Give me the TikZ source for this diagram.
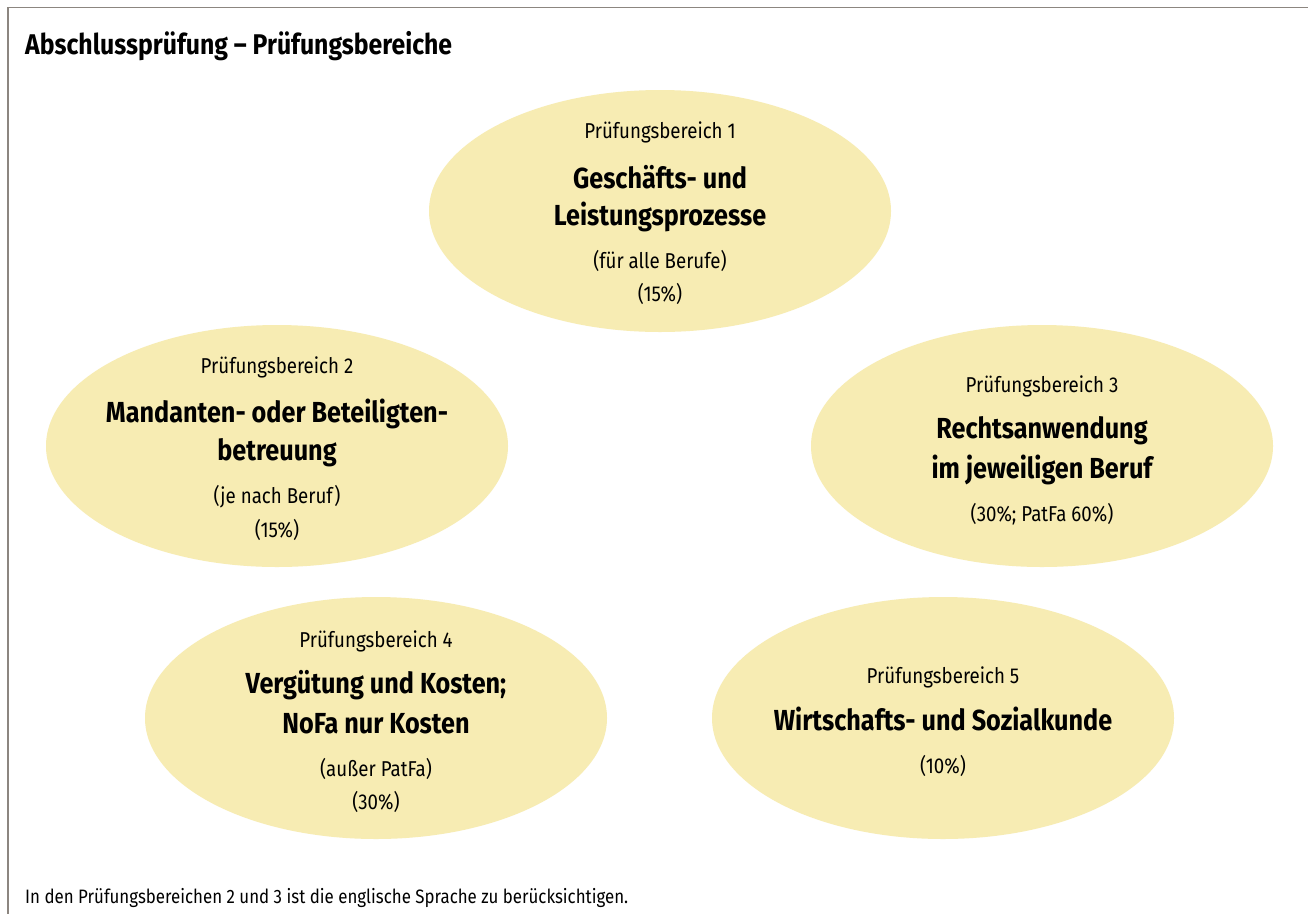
\documentclass[tikz,border=0pt]{standalone}
\usepackage{fontspec}
\setmainfont{Fira Sans}[FakeStretch=0.87]
\usetikzlibrary{shapes.geometric}
\definecolor{ovalfill}{RGB}{247,236,179}
\definecolor{framegray}{RGB}{140,134,128}
\tikzset{
  oval/.style={shape=ellipse, fill=ovalfill, draw=none, minimum width=462pt, minimum height=242pt, inner sep=0pt},
  pbtext/.style={anchor=base, inner sep=0pt, font=\fontsize{21.5pt}{26pt}\selectfont},
  hdtext/.style={anchor=base, inner sep=0pt, font=\fontsize{29pt}{34pt}\selectfont\bfseries},
  titletext/.style={anchor=base west, inner sep=0pt, font=\fontsize{28.5pt}{33pt}\selectfont\bfseries},
  notetext/.style={anchor=base west, inner sep=0pt, font=\fontsize{19.4pt}{24pt}\selectfont},
}
\begin{document}
\begin{tikzpicture}[x=1pt,y=-1pt]
\useasboundingbox (0,0) rectangle (1308,914);
\fill[white] (0,0) rectangle (1308,914);
% frame
\coordinate (ftr) at (1308,7.5);
\coordinate (ftl) at (8,7.5);
\coordinate (fbl) at (8,914);
\draw[framegray, line width=1.5pt] (ftr) -- (ftl) -- (fbl);
% title
\node[titletext] (title) at (25,54) {Abschlussprüfung – Prüfungsbereiche};
% ellipses
\node[oval] (e1) at (660,211) {};
\node[oval] (e2) at (277,446) {};
\node[oval] (e3) at (1042,446) {};
\node[oval] (e4) at (376,718) {};
\node[oval] (e5) at (943,718) {};
% ellipse 1
\node[pbtext] (e1a) at ([yshift=73pt]e1.center) {Prüfungsbereich 1};
\node[hdtext] (e1b) at ([yshift=23pt]e1.center) {Geschäfts- und};
\node[hdtext] (e1c) at ([yshift=-14pt]e1.center) {Leistungsprozesse};
\node[pbtext] (e1d) at ([yshift=-57pt]e1.center) {(für alle Berufe)};
\node[pbtext] (e1e) at ([yshift=-90pt]e1.center) {(15\%)};
% ellipse 2
\node[pbtext] (e2a) at ([yshift=73pt]e2.center) {Prüfungsbereich 2};
\node[hdtext] (e2b) at ([yshift=24pt]e2.center) {Mandanten- oder Beteiligten-};
\node[hdtext] (e2c) at ([yshift=-14pt]e2.center) {betreuung};
\node[pbtext] (e2d) at ([yshift=-57pt]e2.center) {(je nach Beruf)};
\node[pbtext] (e2e) at ([yshift=-91pt]e2.center) {(15\%)};
% ellipse 3
\node[pbtext] (e3a) at ([yshift=54pt]e3.center) {Prüfungsbereich 3};
\node[hdtext] (e3b) at ([yshift=8pt]e3.center) {Rechtsanwendung};
\node[hdtext] (e3c) at ([yshift=-32pt]e3.center) {im jeweiligen Beruf};
\node[pbtext] (e3d) at ([yshift=-75pt]e3.center) {(30\%; PatFa 60\%)};
% ellipse 4
\node[pbtext] (e4a) at ([yshift=71pt]e4.center) {Prüfungsbereich 4};
\node[hdtext] (e4b) at ([yshift=25pt]e4.center) {Vergütung und Kosten;};
\node[hdtext] (e4c) at ([yshift=-15pt]e4.center) {NoFa nur Kosten};
\node[pbtext] (e4d) at ([yshift=-58pt]e4.center) {(außer PatFa)};
\node[pbtext] (e4e) at ([yshift=-91pt]e4.center) {(30\%)};
% ellipse 5
\node[pbtext] (e5a) at ([yshift=35pt]e5.center) {Prüfungsbereich 5};
\node[hdtext] (e5b) at ([yshift=-12pt]e5.center) {Wirtschafts- und Sozialkunde};
\node[pbtext] (e5c) at ([yshift=-55pt]e5.center) {(10\%)};
% footnote
\node[notetext] (note) at (25,903) {In den Prüfungsbereichen 2 und 3 ist die englische Sprache zu berücksichtigen.};
\end{tikzpicture}
\end{document}
